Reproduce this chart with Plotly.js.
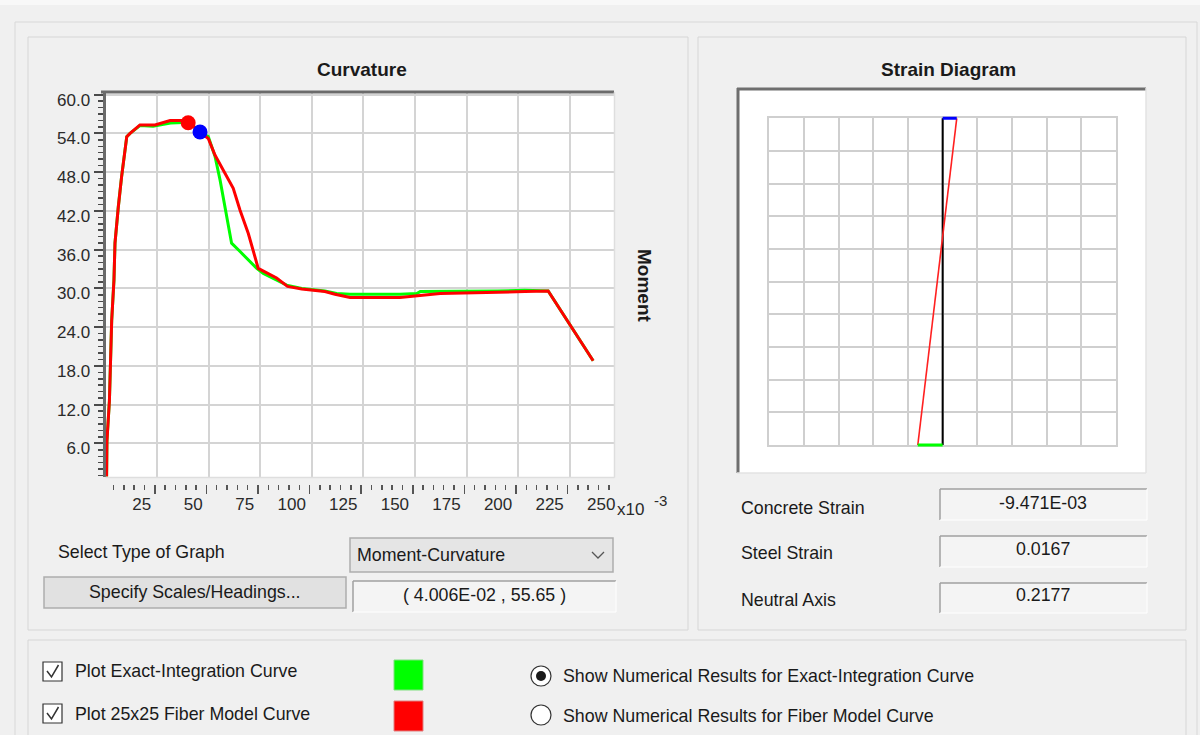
<!DOCTYPE html>
<html><head><meta charset="utf-8">
<script src="https://cdn.plot.ly/plotly-3.0.1.min.js"></script>
<style>html,body{margin:0;padding:0;background:#f0f0f0;overflow:hidden}#chart{width:1200px;height:735px}</style>
</head><body><div id="chart"></div>
<script>
// ---------- data (curvature in x10^-3, moment) ----------
const fiberCurvature = [0.5, 0.7, 1.9, 2.4, 3.0, 4.1, 4.6, 6.2, 7.8, 10.3, 11.9, 16.7, 24.0, 31.3, 37.7, 40.1, 45.8, 49.8, 53.1, 58.7, 61.9, 65.2, 69.2, 74.0, 82.9, 88.2, 95.1, 100.7, 106.3, 111.2, 118.5, 142.7, 151.6, 162.1, 203.2, 214.5, 236.3];
const fiberMoment    = [0, 6.4, 12.6, 19.1, 25.0, 31.3, 37.0, 42.6, 47.3, 53.5, 54.0, 55.3, 55.3, 56.0, 56.0, 55.7, 54.2, 53.2, 50.6, 47.3, 45.5, 42.1, 38.5, 33.1, 31.6, 30.3, 29.9, 29.7, 29.5, 29.1, 28.6, 28.6, 28.9, 29.2, 29.5, 29.6, 18.8];
const exactCurvature = [0.5, 0.7, 1.9, 2.4, 3.0, 4.1, 4.6, 6.2, 7.8, 10.3, 11.9, 16.7, 23.0, 31.5, 37.7, 42.0, 45.8, 49.8, 53.1, 55.5, 57.9, 61.1, 65.2, 73.3, 76.5, 87.8, 95.1, 100.7, 106.3, 112.0, 118.5, 142.7, 150.8, 152.5, 162.1, 190.0, 203.2, 214.5, 236.3];
const exactMoment    = [0, 6.4, 12.6, 19.1, 25.0, 31.3, 37.0, 42.6, 47.3, 53.5, 54.0, 55.2, 55.1, 55.6, 55.7, 55.3, 54.2, 53.5, 50.4, 46.8, 42.6, 37.0, 35.7, 33.1, 32.3, 30.5, 30.0, 29.8, 29.6, 29.2, 29.1, 29.1, 29.2, 29.5, 29.5, 29.6, 29.7, 29.6, 18.8];
const readoutCurvature = [40.06];
const readoutMoment    = [55.65];
const bluePointCurvature = [45.8];
const bluePointMoment    = [54.2];
const curvatureTickValues = [25, 50, 75, 100, 125, 150, 175, 200, 225, 250];
const curvatureTickLabels = ['25', '50', '75', '100', '125', '150', '175', '200', '225', '250'];
const concreteStrain = -9.471e-3;
const steelStrain = 0.0167;
const neutralAxis = 0.2177;

// ---------- helpers ----------
const W = 1200, H = 735;
const X = p => p / W, Y = p => 1 - p / H;
const F = 'Liberation Sans, Arial, sans-serif';
const shapes = [];
function rect(x0, y0, x1, y1, fill, line, lw, layer) {
  shapes.push({type:'rect', xref:'paper', yref:'paper', x0:X(x0), x1:X(x1), y0:Y(y1), y1:Y(y0),
    fillcolor: fill || 'rgba(0,0,0,0)', line:{color: line || 'rgba(0,0,0,0)', width: lw == null ? 1 : lw}, layer: layer || 'below'});
}
function seg(x0, y0, x1, y1, color, w, layer) {
  shapes.push({type:'line', xref:'paper', yref:'paper', x0:X(x0), x1:X(x1), y0:Y(y0), y1:Y(y1),
    line:{color:color, width:w}, layer: layer || 'below'});
}
function path(pts, color, w) {
  const d = pts.map((p, i) => (i ? 'L ' : 'M ') + X(p[0]) + ' ' + Y(p[1])).join(' ');
  shapes.push({type:'path', xref:'paper', yref:'paper', path:d, line:{color:color, width:w}, layer:'above'});
}
function circle(cx, cy, r, fill, line, lw) {
  shapes.push({type:'circle', xref:'paper', yref:'paper', x0:X(cx - r), x1:X(cx + r), y0:Y(cy + r), y1:Y(cy - r),
    fillcolor: fill, line:{color: line || 'rgba(0,0,0,0)', width: lw || 0}, layer:'above'});
}
function sunken(x0, y0, x1, y1, fill) {
  rect(x0, y0, x1, y1, fill, null, 0);
  seg(x0, y0, x1, y0, '#a0a0a0', 1.5); seg(x0, y0, x0, y1, '#a0a0a0', 1.5);
  seg(x1, y0, x1, y1, '#ffffff', 1); seg(x0, y1, x1, y1, '#ffffff', 1);
}
const annotations = [];
function text(t, x, y, opts) {
  opts = opts || {};
  const anchor = opts.xanchor || 'left';
  annotations.push({text:t, xref:'paper', yref:'paper', x:X(anchor === 'left' ? x - 2 : x), y:Y(y), showarrow:false,
    xanchor: anchor, yanchor:'middle', textangle: opts.angle || 0,
    font:{family:F, size: opts.size || 17.8, color: opts.color || '#1a1a1a', weight: opts.bold ? 'bold' : 'normal'}});
}

// ---------- window decoration ----------
rect(0, 0, 1200, 5, '#f8f8f8', null, 0);
rect(15, 22, 1197, 760, null, '#d8d8d8', 1);
rect(28, 37, 688, 630, null, '#d6d6d6', 1);
rect(698, 37, 1186, 630, null, '#d6d6d6', 1);
rect(28, 640, 1186, 760, null, '#d6d6d6', 1);
// main plot sunken white area
rect(105.5, 92, 614, 477, '#ffffff', null, 0);
seg(101, 92, 614, 92, '#6b6b6b', 3, 'above');
seg(105.5, 477.5, 614.5, 477.5, '#dedede', 1.5, 'above');
seg(614.5, 92, 614.5, 477.5, '#dedede', 1.5, 'above');
// strain panel
rect(737, 88, 1146, 473, '#ffffff', null, 0);
seg(737, 89, 1146, 89, '#6e6e6e', 3, 'above');
seg(738, 88, 738, 473, '#6e6e6e', 3, 'above');
seg(1146, 88, 1146, 473, '#e3e3e3', 1.5, 'above');
seg(737, 473, 1146, 473, '#e3e3e3', 1.5, 'above');
// dropdown
rect(350, 538, 613, 572, '#e5e5e5', '#adadad', 1.5);
path([[592, 552], [598, 558], [604, 552]], '#555555', 1.3);
// button
rect(44, 577, 346, 608, '#e1e1e1', '#adadad', 1.5);
// readout & value boxes
sunken(353, 581, 616, 612, '#f4f4f4');
sunken(940, 489, 1147, 520, '#f4f4f4');
sunken(940, 536, 1147, 567, '#f4f4f4');
sunken(940, 583, 1147, 613, '#f4f4f4');
// checkboxes
rect(43, 662, 62, 681, '#ffffff', '#333333', 1.2, 'above');
rect(43, 704, 62, 723, '#ffffff', '#333333', 1.2, 'above');
path([[47, 671], [51.5, 677], [58.5, 665]], '#333333', 1.5);
path([[47, 713], [51.5, 719], [58.5, 707]], '#333333', 1.5);
// colour swatches
rect(394, 660, 423, 690, '#00ff00', '#7fe07f', 1, 'above');
rect(394, 701, 423, 731, '#ff0000', '#e07f7f', 1, 'above');
// radio buttons
circle(541, 676, 10, '#ffffff', '#333333', 1.2);
circle(541, 676, 5, '#1a1a1a');
circle(541, 715, 10, '#ffffff', '#333333', 1.2);

// ---------- texts ----------
text('Curvature', 362, 69, {xanchor:'center', bold:true, size:19});
text('Strain Diagram', 948, 69, {xanchor:'center', bold:true, size:19});
text('Moment', 645, 286, {xanchor:'center', bold:true, size:19, angle:90});
text('x10', 617, 509, {size:17, color:'#2a2a2a'});
text('-3', 654, 501, {size:15, color:'#2a2a2a'});
text('Select Type of Graph', 58, 552);
text('Moment-Curvature', 357, 555);
text('Specify Scales/Headings...', 195, 592, {xanchor:'center'});
text('( ' + (readoutCurvature[0] / 1000).toExponential(3).replace('e-', 'E-0') + ' , ' + readoutMoment[0].toFixed(2) + ' )', 484, 595, {xanchor:'center'});
text('Concrete Strain', 741, 508);
text('Steel Strain', 741, 553);
text('Neutral Axis', 741, 600);
text(concreteStrain.toExponential(3).replace('e-', 'E-0'), 1043, 503, {xanchor:'center'});
text(steelStrain.toFixed(4), 1043, 549, {xanchor:'center'});
text(neutralAxis.toFixed(4), 1043, 595, {xanchor:'center'});
text('Plot Exact-Integration Curve', 75, 671);
text('Plot 25x25 Fiber Model Curve', 75, 714);
text('Show Numerical Results for Exact-Integration Curve', 563, 676);
text('Show Numerical Results for Fiber Model Curve', 563, 716);

// ---------- traces ----------
const strainX = [-concreteStrain, -steelStrain];
const traces = [
  {x: exactCurvature, y: exactMoment, mode:'lines', line:{color:'#00ff00', width:3}, hoverinfo:'skip'},
  {x: fiberCurvature, y: fiberMoment, mode:'lines', line:{color:'#ff0000', width:3}, hoverinfo:'skip'},
  {x: readoutCurvature, y: readoutMoment, mode:'markers', marker:{color:'#ff0000', size:15}, hoverinfo:'skip'},
  {x: bluePointCurvature, y: bluePointMoment, mode:'markers', marker:{color:'#0000ff', size:15}, hoverinfo:'skip'},
  {x: [], y: [], xaxis:'x2', yaxis:'y', mode:'markers', hoverinfo:'skip'},
  {x: [], y: [], xaxis:'x3', yaxis:'y', mode:'markers', hoverinfo:'skip'},
  {x: [], y: [], xaxis:'x4', yaxis:'y4', mode:'markers', hoverinfo:'skip'},
  {x: [0, 0], y: [0, 1], xaxis:'x5', yaxis:'y5', mode:'lines', line:{color:'#000000', width:2}, hoverinfo:'skip'},
  {x: strainX, y: [0, 1], xaxis:'x5', yaxis:'y5', mode:'lines', line:{color:'#ff2020', width:1.6}, hoverinfo:'skip'},
  {x: [0, strainX[0]], y: [0, 0], xaxis:'x5', yaxis:'y5', mode:'lines', line:{color:'#0000ff', width:3}, hoverinfo:'skip'},
  {x: [strainX[1], 0], y: [1, 1], xaxis:'x5', yaxis:'y5', mode:'lines', line:{color:'#00ff00', width:3}, hoverinfo:'skip'}
];

const grid = '#d4d4d4';
const tickFont = {family:F, size:17, color:'#2a2a2a'};
const mainXDomain = [X(105.5), X(614)];
const cellStrain = 0.0233;
// strain grid: 10 x 10 cells spanning 769.3..1116 px and 118.3..445 px
const gx0 = 769.3, gx1 = 1116, gy0 = 118.3, gy1 = 445, pad = 4;
const padX = pad / (gx1 - gx0) * 10 * cellStrain, padY = pad / (gy1 - gy0);
const hidden = {showgrid:false, zeroline:false, showline:false, ticks:'', showticklabels:false, fixedrange:true};
const layout = {
  width: W, height: H, margin:{l:0, r:0, t:0, b:0},
  paper_bgcolor:'#f0f0f0', plot_bgcolor:'rgba(0,0,0,0)', showlegend:false,
  xaxis:{domain:mainXDomain, range:[0, 246.4], tick0:0, dtick:25, showgrid:true, gridcolor:grid, gridwidth:2,
    zeroline:false, showline:false, ticks:'', showticklabels:false, anchor:'y', fixedrange:true},
  xaxis2:{overlaying:'x', domain:mainXDomain, anchor:'free', position:Y(492), range:[7.75, 254.15],
    tickmode:'array', tickvals:curvatureTickValues, ticktext:curvatureTickLabels, ticks:'', showgrid:false, showline:false,
    zeroline:false, ticklabelposition:'outside left', ticklabelshift:10, tickfont:tickFont, fixedrange:true},
  xaxis3:{overlaying:'x', domain:mainXDomain, anchor:'free', position:Y(484), range:[1.1, 247.5], tick0:0, dtick:25,
    ticks:'outside', ticklen:9, tickwidth:1.5, tickcolor:'#555555',
    minor:{tick0:0, dtick:5, ticks:'outside', ticklen:5, tickwidth:1.5, tickcolor:'#555555', showgrid:false},
    showgrid:false, showline:false, zeroline:false, showticklabels:false, fixedrange:true},
  yaxis:{domain:[Y(476.5), Y(93)], range:[0.87, 60.25], tick0:0, dtick:6, tickformat:'.1f', showgrid:true,
    gridcolor:grid, gridwidth:2, zeroline:false, showline:true, linecolor:'#6a6a6a', linewidth:3,
    ticks:'outside', ticklen:9, tickwidth:2, tickcolor:'#4a4a4a',
    minor:{tick0:0, dtick:1, ticks:'outside', ticklen:5, tickwidth:1.5, tickcolor:'#4a4a4a', showgrid:false},
    tickfont:tickFont, ticklabelshift:5, ticklabelstandoff:0, anchor:'x', fixedrange:true},
  xaxis4:{domain:[X(gx0), X(gx1)], range:[-5 * cellStrain, 5 * cellStrain], tick0:0, dtick:cellStrain,
    showgrid:true, gridcolor:'#cfcfcf', gridwidth:2, zeroline:false, showline:true, mirror:true,
    linecolor:'#cfcfcf', linewidth:2, ticks:'', showticklabels:false, anchor:'y4', fixedrange:true},
  yaxis4:{domain:[Y(gy1), Y(gy0)], range:[1, 0], tick0:0, dtick:0.1, showgrid:true, gridcolor:'#cfcfcf',
    gridwidth:2, zeroline:false, showline:true, mirror:true, linecolor:'#cfcfcf', linewidth:2, ticks:'',
    showticklabels:false, anchor:'x4', fixedrange:true},
  xaxis5:Object.assign({domain:[X(gx0 - pad), X(gx1 + pad)], range:[-5 * cellStrain - padX, 5 * cellStrain + padX], anchor:'y5'}, hidden),
  yaxis5:Object.assign({domain:[Y(gy1 + pad), Y(gy0 - pad)], range:[1 + padY, -padY], anchor:'x5'}, hidden),
  shapes: shapes,
  annotations: annotations
};
Plotly.newPlot('chart', traces, layout, {staticPlot:true, displayModeBar:false});
</script></body></html>
